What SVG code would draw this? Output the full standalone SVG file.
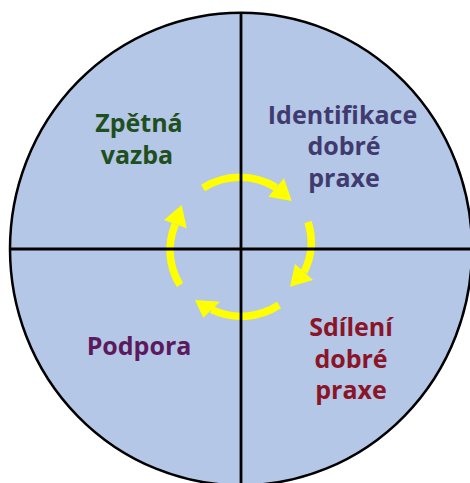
<svg xmlns="http://www.w3.org/2000/svg" width="470" height="483" viewBox="0 0 470 483">
<style>
  .lbl { font-family: "Open Sans", "Noto Sans", "DejaVu Sans", sans-serif; font-weight: bold; font-size: 25px; text-anchor: middle; }
  .arc { fill: none; stroke: #ffff00; stroke-width: 7.5; stroke-linecap: butt; }
  .head { fill: #ffff00; stroke: none; }
  .axis { stroke: #000; stroke-width: 2.8; }
</style>
<rect width="470" height="483" fill="#ffffff"/>
<g id="disc">
  <ellipse cx="241" cy="249" rx="231" ry="236.3" fill="#b4c7e7" stroke="#000" stroke-width="2.5"/>
</g>
<g id="connectors">
  <path class="arc" d="M203,188 A68,67 0 0 1 276,187.5"/>
  <polygon class="head" points="268.3,196.7 284,178.3 291.7,201"/>
  <path class="arc" d="M308,222 A68,67 0 0 1 304,272"/>
  <polygon class="head" points="295,264 313,280 290,286.7"/>
  <path class="arc" d="M279,305 A68,67 0 0 1 211.7,309.7"/>
  <polygon class="head" points="203.3,317.7 220,301.7 195,300"/>
  <path class="arc" d="M180,285 A68,67 0 0 1 175.3,224.2"/>
  <polygon class="head" points="164,220 186.7,228.3 181.7,205"/>
</g>
<g id="axes">
  <line class="axis" x1="241" y1="12" x2="241" y2="483"/>
  <line class="axis" x1="9" y1="249" x2="470" y2="249"/>
</g>
<g id="zpetna-vazba">
  <text class="lbl" fill="#1f4f1f" x="139" y="132">Zpětná<tspan x="137" dy="31.5">vazba</tspan></text>
</g>
<g id="identifikace">
  <text class="lbl" fill="#403a6e" x="342.5" y="123.5">Identifikace<tspan x="344" dy="31.5">dobré</tspan><tspan x="344" dy="31.5">praxe</tspan></text>
</g>
<g id="podpora">
  <text class="lbl" fill="#5b1a5e" x="139" y="355">Podpora</text>
</g>
<g id="sdileni">
  <text class="lbl" fill="#8a1428" x="351" y="336">Sdílení<tspan x="351" dy="31.5">dobré</tspan><tspan x="351" dy="31.5">praxe</tspan></text>
</g>
</svg>
